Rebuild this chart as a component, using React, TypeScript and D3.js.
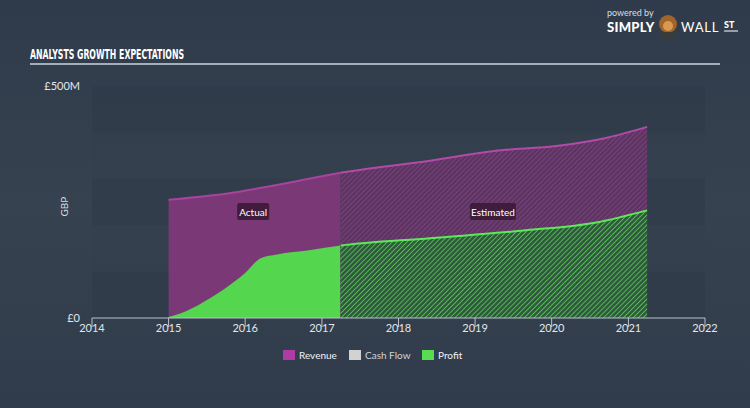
import React from "react";
import * as d3 from "d3";

const revenueDates = ["2015-01-01", "2015-10-01", "2016-08-01", "2017-03-31", "2018-06-01", "2019-04-01", "2020-02-01", "2020-09-15", "2021-03-31"];
const revenueValues = [255, 268, 292, 313, 339, 360, 371, 388, 412];
const profitDates = ["2015-01-01", "2015-03-01", "2015-06-15", "2015-09-15", "2016-01-01", "2016-03-15", "2016-06-01", "2016-11-01", "2017-03-31", "2018-06-01", "2019-09-01", "2020-08-01", "2021-03-31"];
const profitValues = [2, 10, 34, 60, 97, 129, 137, 146, 156, 172, 189, 206, 232];
const yearTicks = [2014, 2015, 2016, 2017, 2018, 2019, 2020, 2021, 2022];
const yTickLabels = ["£0", "£500M"];
const yTickValues = [0, 500];
const legendNames = ["Revenue", "Cash Flow", "Profit"];
const legendColors = ["#b03ba3", "#d2d2d2", "#58dc52"];
const estimateStart = "2017-03-31";

const W = 750, H = 408;

export default function App() {
  const x = d3.scaleTime().domain([new Date(2014, 0, 1), new Date(2022, 0, 1)]).range([92, 705]);
  const y = d3.scaleLinear().domain([0, 500]).range([318, 86]);
  const rev = revenueDates.map((d, i) => ({ d: new Date(d), v: revenueValues[i] }));
  const prof = profitDates.map((d, i) => ({ d: new Date(d), v: profitValues[i] }));
  const area = d3.area<any>().x(p => x(p.d)).y0(y(0)).y1(p => y(p.v)).curve(d3.curveMonotoneX);
  const line = d3.line<any>().x(p => x(p.d)).y(p => y(p.v)).curve(d3.curveMonotoneX);
  const xs = x(new Date(estimateStart));
  const bands = [0, 1, 2, 3, 4];

  return (
    <svg width={W} height={H} style={{ position: "fixed", left: 0, top: 0 }} fontFamily="Lato, 'Open Sans', sans-serif">
      <defs>
        <linearGradient id="bg" x1="0" y1="0" x2="0" y2="1">
          <stop offset="0" stopColor="#2f3b4a" />
          <stop offset="0.5" stopColor="#36424f" />
          <stop offset="1" stopColor="#303c4b" />
        </linearGradient>
        <pattern id="hatchP" width="3.5" height="3.5" patternUnits="userSpaceOnUse" patternTransform="rotate(45)">
          <rect width="3.5" height="3.5" fill="#5c3660" />
          <line x1="0" y1="0" x2="0" y2="3.5" stroke="#85428a" strokeWidth="1.4" />
        </pattern>
        <pattern id="hatchG" width="3.5" height="3.5" patternUnits="userSpaceOnUse" patternTransform="rotate(45)">
          <rect width="3.5" height="3.5" fill="#2f5a3e" />
          <line x1="0" y1="0" x2="0" y2="3.5" stroke="#5fd05a" strokeWidth="1.5" />
        </pattern>
        <clipPath id="actual"><rect x={0} y={0} width={xs} height={H} /></clipPath>
        <clipPath id="est"><rect x={xs} y={0} width={W - xs} height={H} /></clipPath>
      </defs>
      <rect width={W} height={H} fill="url(#bg)" />

      {/* logo */}
      <text x={607} y={16} fontSize={9} fill="#d8dde3">powered by</text>
      <text x={607} y={32} fontSize={13} fontWeight={900} fill="#ffffff" letterSpacing={0.3}>SIMPLY</text>
      <g transform="translate(668,24)">
        <circle r={9} fill="#a0642c" />
        <circle cx={0} cy={2} r={5} fill="#d89a52" />
        <rect x={-6} y={8} width={12} height={8} fill="#3b3b3b" />
      </g>
      <text x={681} y={32} fontSize={13} fill="#ffffff" letterSpacing={0.8}>WALL</text>
      <text x={724} y={28} fontSize={9} fontWeight={900} fill="#ffffff">ST</text>
      <line x1={724} y1={31} x2={738} y2={31} stroke="#ffffff" strokeWidth={1} />

      {/* title */}
      <text x={30} y={59} fontSize={14} fontWeight={700} fill="#ffffff" textLength={154} lengthAdjust="spacingAndGlyphs" fontFamily="'DejaVu Sans Condensed', 'Liberation Sans Narrow', 'DejaVu Sans', sans-serif">ANALYSTS GROWTH EXPECTATIONS</text>
      <line x1={30} y1={64} x2={720} y2={64} stroke="#c9d5df" strokeWidth={1.5} />

      {/* bands */}
      {bands.map(i => (
        <rect key={i} x={92} y={y((i + 1) * 100)} width={705 - 92} height={y(i * 100) - y((i + 1) * 100)}
          fill={i % 2 === 0 ? "#2e3a48" : "#343f4d"} opacity={0.6} />
      ))}

      {/* y labels */}
      {yTickValues.map((v, i) => (
        <text key={v} x={80} y={y(v) + 4} fontSize={11} fill="#e2e6ea" textAnchor="end">{yTickLabels[i]}</text>
      ))}
      <text transform={`translate(68,${y(240)}) rotate(-90)`} fontSize={10} fill="#d6dbe0" textAnchor="middle">GBP</text>

      {/* actual */}
      <g clipPath="url(#actual)">
        <path d={area(rev) ?? ""} fill="#7b3876" />
        <path d={line(rev) ?? ""} fill="none" stroke="#a8439f" strokeWidth={2} />
        <path d={area(prof) ?? ""} fill="#55d64f" />
      </g>
      {/* estimated */}
      <g clipPath="url(#est)">
        <path d={area(rev) ?? ""} fill="url(#hatchP)" />
        <path d={line(rev) ?? ""} fill="none" stroke="#b24aa8" strokeWidth={2} />
        <path d={area(prof) ?? ""} fill="url(#hatchG)" />
        <path d={line(prof) ?? ""} fill="none" stroke="#5ee85a" strokeWidth={2} />
      </g>

      {/* labels */}
      <g transform={`translate(${x(new Date(2016, 0, 1)) + 8},212)`}>
        <rect x={-16} y={-9} width={32} height={17} rx={2} fill="#3b1a37" opacity={0.9} />
        <text y={4} fontSize={10} fill="#ffffff" textAnchor="middle">Actual</text>
      </g>
      <g transform={`translate(${x(new Date(2019, 3, 1)) - 1},212)`}>
        <rect x={-23} y={-9} width={46} height={17} rx={2} fill="#3b1a37" opacity={0.9} />
        <text y={4} fontSize={10} fill="#ffffff" textAnchor="middle">Estimated</text>
      </g>

      {/* x axis */}
      <line x1={92} y1={318} x2={705} y2={318} stroke="#b8c2cc" strokeWidth={1} />
      {yearTicks.map(t => {
        const px = x(new Date(t, 0, 1));
        return (
          <g key={t}>
            <line x1={px} y1={318} x2={px} y2={327} stroke="#b8c2cc" strokeWidth={1} />
            <text x={px} y={332} fontSize={11} fill="#e2e6ea" textAnchor="middle">{t}</text>
          </g>
        );
      })}

      {/* legend */}
      {legendNames.map((n, i) => {
        const lx = [283, 349, 422][i];
        return (
          <g key={n}>
            <rect x={lx} y={350} width={12} height={10} fill={legendColors[i]} />
            <text x={lx + 16} y={359} fontSize={10} fill={i === 1 ? "#cfd3d8" : "#f2f2f2"}>{n}</text>
          </g>
        );
      })}
    </svg>
  );
}
